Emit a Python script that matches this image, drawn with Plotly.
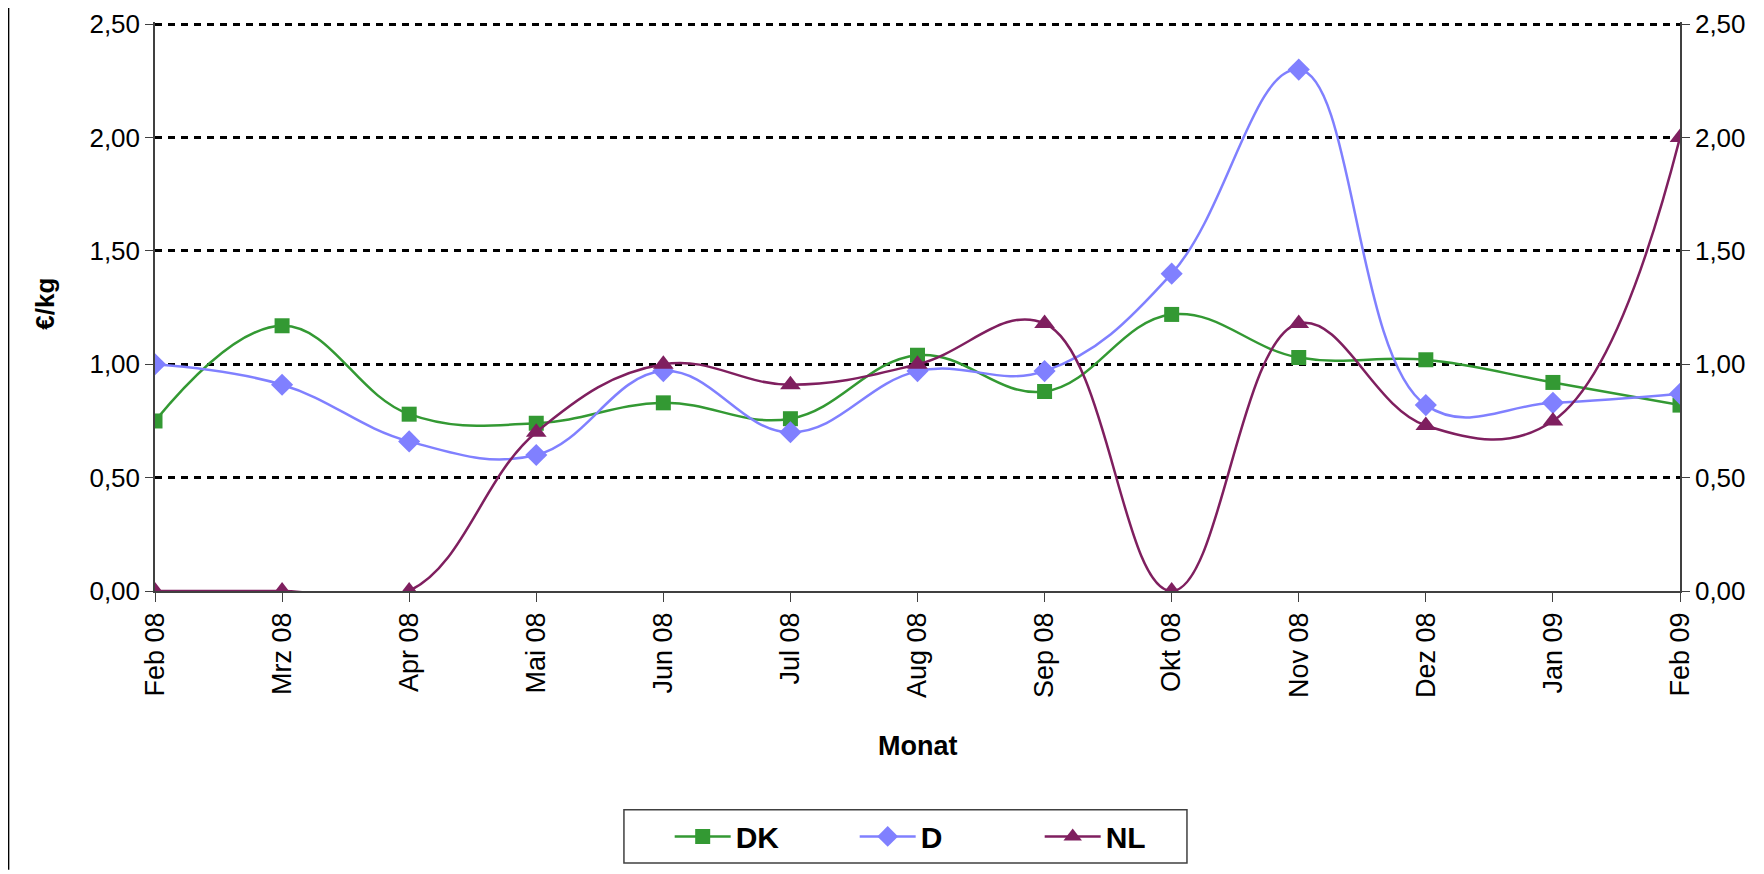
import plotly.graph_objects as go

months = ["Feb 08", "Mrz 08", "Apr 08", "Mai 08", "Jun 08", "Jul 08", "Aug 08",
          "Sep 08", "Okt 08", "Nov 08", "Dez 08", "Jan 09", "Feb 09"]

dk = [0.75, 1.17, 0.78, 0.74, 0.83, 0.76, 1.04, 0.88, 1.22, 1.03, 1.02, 0.92, 0.82]
d = [1.00, 0.91, 0.66, 0.60, 0.97, 0.70, 0.97, 0.97, 1.40, 2.30, 0.82, 0.83, 0.87]
nl = [0.00, 0.00, 0.00, 0.70, 1.00, 0.91, 1.00, 1.18, 0.00, 1.18, 0.73, 0.75, 2.00]

FONT = "Liberation Sans, Arial, sans-serif"
SMOOTH = 1.15

fig = go.Figure()

fig.add_trace(go.Scatter(
    x=months, y=dk, name="DK", mode="lines+markers",
    line=dict(color="#339933", width=2.5, shape="spline", smoothing=SMOOTH),
    marker=dict(symbol="square", size=15, color="#339933"),
))
fig.add_trace(go.Scatter(
    x=months, y=d, name="D", mode="lines+markers",
    line=dict(color="#8080FF", width=2.5, shape="spline", smoothing=SMOOTH),
    marker=dict(symbol="diamond", size=17, color="#8080FF"),
))
fig.add_trace(go.Scatter(
    x=months, y=nl, name="NL", mode="lines+markers",
    line=dict(color="#7F1F5F", width=2.5, shape="spline", smoothing=SMOOTH),
    marker=dict(symbol="triangle-up", size=18, color="#7F1F5F"),
))
# invisible copy so the right-hand axis gets drawn
fig.add_trace(go.Scatter(
    x=months, y=dk, yaxis="y2", mode="lines", showlegend=False,
    line=dict(width=0), opacity=0, hoverinfo="skip",
))

axis_line = "#404040"
y_range = [0, 2.51]

# the page body adds 8px around the figure, so the figure is 8px smaller
fig.update_layout(
    width=1756, height=866,
    margin=dict(l=147, r=84, t=14, b=278),
    paper_bgcolor="white", plot_bgcolor="white",
    separators=",.",
    font=dict(family=FONT, size=27, color="black"),
    showlegend=True,
    xaxis=dict(
        type="category", range=[0, 12], automargin=False,
        tickangle=-90, tickfont=dict(size=27),
        ticks="outside", ticklen=9, tickcolor=axis_line,
        showline=True, linecolor=axis_line, linewidth=1.5,
        showgrid=False, zeroline=False, ticklabelstandoff=0,
    ),
    yaxis=dict(
        range=y_range, dtick=0.5, tickformat=".2f", automargin=False,
        ticklabeloverflow="allow", tickfont=dict(size=26),
        ticks="outside", ticklen=8, tickcolor=axis_line,
        showline=True, linecolor=axis_line, linewidth=1.5,
        showgrid=True, gridcolor="black", gridwidth=2.5, griddash="7px,6px",
        zeroline=False,
    ),
    yaxis2=dict(
        range=y_range, dtick=0.5, tickformat=".2f", overlaying="y", side="right",
        automargin=False, ticklabeloverflow="allow", tickfont=dict(size=26),
        ticks="outside", ticklen=8, tickcolor=axis_line,
        showline=True, linecolor=axis_line, linewidth=1.5,
        showgrid=False, zeroline=False,
    ),
    legend=dict(
        orientation="h", x=0.3375, xanchor="left", y=-0.4314, yanchor="middle",
        borderwidth=0, bgcolor="rgba(0,0,0,0)",
        font=dict(size=30, family=FONT), itemwidth=56,
        entrywidth=114, entrywidthmode="pixels",
    ),
    legend_font_weight="bold",
)

fig.add_annotation(text="<b>€/kg</b>", xref="paper", yref="paper",
                   x=-0.0721, y=0.505, textangle=-90, showarrow=False,
                   font=dict(size=26), xanchor="center", yanchor="middle")
fig.add_annotation(text="<b>Monat</b>", xref="paper", yref="paper",
                   x=0.5, y=-0.272, showarrow=False,
                   font=dict(size=27), xanchor="center", yanchor="middle")

# legend frame
fig.add_shape(type="rect", xref="paper", yref="paper",
              x0=0.3075, x1=0.6767, y0=-0.4782, y1=-0.3843,
              line=dict(color="#404040", width=1.5))

# outer frame edge at the left of the picture
fig.add_shape(type="line", xref="paper", yref="paper",
              x0=-0.0960, x1=-0.0960, y0=-0.49, y1=1.04,
              line=dict(color="black", width=1.5))

fig.write_html("out.html")
